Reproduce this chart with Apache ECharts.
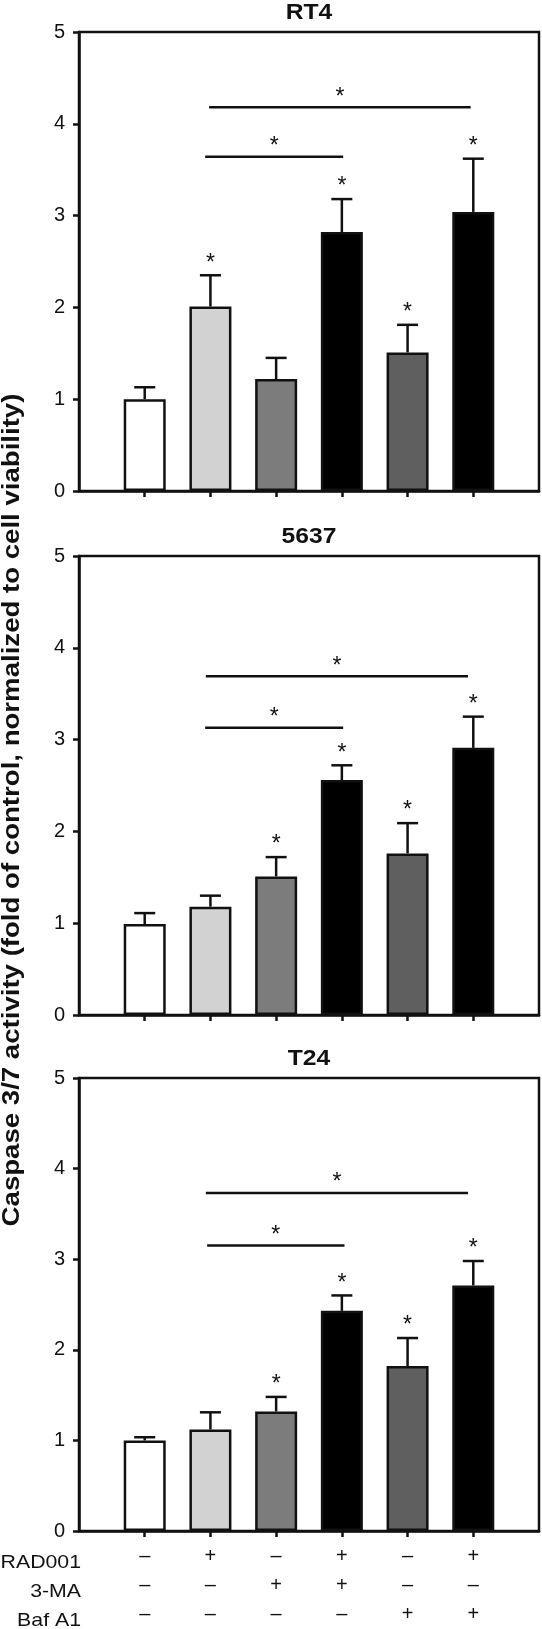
<!DOCTYPE html>
<html>
<head>
<meta charset="utf-8">
<script src="https://cdn.jsdelivr.net/npm/echarts@6/dist/echarts.min.js"></script>
<style>
html,body{margin:0;padding:0;background:#fff;}
#chart{width:542px;height:1629px;}
</style>
</head>
<body>
<div id="chart"></div>
<script>
// ---- data ----
const xPositions = [1, 2, 3, 4, 5, 6];
const barColors = ['#ffffff', '#d2d2d2', '#7c7c7c', '#000000', '#5f5f5f', '#000000'];
const panelTitles = ['RT4', '5637', 'T24'];

const rt4Means = [1.00, 2.01, 1.22, 2.82, 1.51, 3.04];
const rt4Sd    = [0.13, 0.34, 0.23, 0.36, 0.30, 0.58];
const rt4Stars = [0, 1, 0, 1, 1, 1];
const rt4Brackets = [[1.92, 4.02, 3.64], [1.98, 5.96, 4.18]];

const c5637Means = [0.99, 1.18, 1.51, 2.56, 1.76, 2.91];
const c5637Sd    = [0.12, 0.12, 0.21, 0.16, 0.33, 0.34];
const c5637Stars = [0, 0, 1, 1, 1, 1];
const c5637Brackets = [[1.92, 4.02, 3.13], [1.93, 5.92, 3.69]];

const t24Means = [1.00, 1.12, 1.32, 2.43, 1.82, 2.71];
const t24Sd    = [0.035, 0.19, 0.16, 0.17, 0.31, 0.27];
const t24Stars = [0, 0, 1, 1, 1, 1];
const t24Brackets = [[1.95, 4.04, 3.15], [1.93, 5.92, 3.73]];

const rowNames = ['RAD001', '3-MA', 'Baf A1'];
const rowRAD001 = ['–', '+', '–', '+', '–', '+'];
const row3MA    = ['–', '–', '+', '+', '–', '–'];
const rowBafA1  = ['–', '–', '–', '–', '+', '+'];

const yTicks = [0, 1, 2, 3, 4, 5];
const yAxisTitle = 'Caspase 3/7 activity (fold of control, normalized to cell viability)';

// ---- layout ----
const FONT = 'Liberation Sans, Arial, Helvetica, sans-serif';
const gridLeft = 79, gridWidth = 460, gridHeight = 459;
const gridTops = [32, 556, 1078];
const LW = 2.5;

const panels = [
  {means: rt4Means, sd: rt4Sd, stars: rt4Stars, brackets: rt4Brackets},
  {means: c5637Means, sd: c5637Sd, stars: c5637Stars, brackets: c5637Brackets},
  {means: t24Means, sd: t24Sd, stars: t24Stars, brackets: t24Brackets}
];

const grids = [], xAxes = [], yAxes = [], series = [], graphics = [];

panels.forEach((p, k) => {
  grids.push({left: gridLeft, top: gridTops[k], width: gridWidth, height: gridHeight,
    show: true, borderColor: '#111', borderWidth: LW, backgroundColor: 'transparent'});
  const isLast = k === panels.length - 1;
  xAxes.push({
    type: 'value', gridIndex: k, min: 0, max: 7, interval: 1,
    splitLine: {show: false},
    axisLine: {show: true, onZero: false, lineStyle: {color: '#111', width: LW}},
    axisTick: {show: true, customValues: xPositions, length: 6, inside: false, lineStyle: {color: '#111', width: LW}},
    axisLabel: isLast ? {
      show: true, customValues: xPositions, margin: 11, fontSize: 20, lineHeight: 29,
      fontFamily: FONT, color: '#111', verticalAlign: 'top',
      formatter: v => {
        const i = xPositions.indexOf(Math.round(v));
        return i < 0 ? '' : rowRAD001[i] + '\n' + row3MA[i] + '\n' + rowBafA1[i];
      }
    } : {show: false}
  });
  yAxes.push({
    type: 'value', gridIndex: k, min: 0, max: 5, interval: 1,
    splitLine: {show: false},
    axisLine: {show: true, lineStyle: {color: '#111', width: LW}},
    axisTick: {show: true, length: 6, inside: false, lineStyle: {color: '#111', width: LW}},
    axisLabel: {show: true, fontSize: 20, fontFamily: FONT, color: '#111', margin: 14,
      formatter: v => yTicks.includes(v) ? String(v) : ''}
  });

  // bars
  series.push({
    type: 'bar', xAxisIndex: k, yAxisIndex: k, barWidth: 42, z: 2,
    data: xPositions.map((x, i) => ({value: [x, p.means[i]],
      itemStyle: {color: barColors[i], borderColor: '#111', borderWidth: LW}})),
    animation: false
  });

  // error bars (upper only)
  series.push({
    type: 'custom', xAxisIndex: k, yAxisIndex: k, z: 3, animation: false,
    data: xPositions.map((x, i) => [x, p.means[i], p.means[i] + p.sd[i]]),
    renderItem: (params, api) => {
      const base = api.coord([api.value(0), api.value(1)]);
      const top = api.coord([api.value(0), api.value(2)]);
      const hw = 10.5;
      const st = {stroke: '#111', lineWidth: LW};
      return {type: 'group', children: [
        {type: 'line', shape: {x1: base[0], y1: base[1], x2: top[0], y2: top[1]}, style: st},
        {type: 'line', shape: {x1: top[0] - hw, y1: top[1], x2: top[0] + hw, y2: top[1]}, style: st}
      ]};
    }
  });

  // stars above bars
  series.push({
    type: 'custom', xAxisIndex: k, yAxisIndex: k, z: 4, animation: false,
    data: xPositions.map((x, i) => [x, p.means[i] + p.sd[i], p.stars[i]]).filter(d => d[2]),
    renderItem: (params, api) => {
      const pt = api.coord([api.value(0), api.value(1)]);
      return {type: 'text', x: pt[0], y: pt[1] - 12,
        style: {text: '*', textAlign: 'center', textVerticalAlign: 'middle', font: '23px ' + FONT, fill: '#111'}};
    }
  });

  // significance brackets
  series.push({
    type: 'custom', xAxisIndex: k, yAxisIndex: k, z: 4, animation: false,
    data: p.brackets,
    renderItem: (params, api) => {
      const a = api.coord([api.value(0), api.value(2)]);
      const b = api.coord([api.value(1), api.value(2)]);
      return {type: 'group', children: [
        {type: 'line', shape: {x1: a[0], y1: a[1], x2: b[0], y2: b[1]}, style: {stroke: '#111', lineWidth: LW}},
        {type: 'text', x: (a[0] + b[0]) / 2, y: a[1] - 10,
          style: {text: '*', textAlign: 'center', textVerticalAlign: 'middle', font: '23px ' + FONT, fill: '#111'}}
      ]};
    }
  });

  // panel title
  graphics.push({type: 'text', x: gridLeft + gridWidth / 2, y: gridTops[k] - 19, scaleX: 1.12,
    style: {text: panelTitles[k], textAlign: 'center', textVerticalAlign: 'middle',
      font: 'bold 22px ' + FONT, fill: '#111'}});
});

// row names
const rowYs = [1563, 1592, 1621];
rowNames.forEach((n, i) => {
  graphics.push({type: 'text', x: 81, y: rowYs[i], scaleX: 1.12,
    style: {text: n, textAlign: 'right', textVerticalAlign: 'middle', font: '19px ' + FONT, fill: '#111'}});
});

// y axis title
graphics.push({type: 'text', x: 12, y: 810, rotation: Math.PI / 2, scaleX: 1.15,
  style: {text: yAxisTitle, textAlign: 'center', textVerticalAlign: 'middle',
    font: 'bold 24px ' + FONT, fill: '#111'}});

const chart = echarts.init(document.getElementById('chart'), null, {renderer: 'canvas'});
chart.setOption({
  animation: false,
  backgroundColor: '#ffffff',
  grid: grids, xAxis: xAxes, yAxis: yAxes, series: series, graphic: graphics
});
</script>
</body>
</html>
